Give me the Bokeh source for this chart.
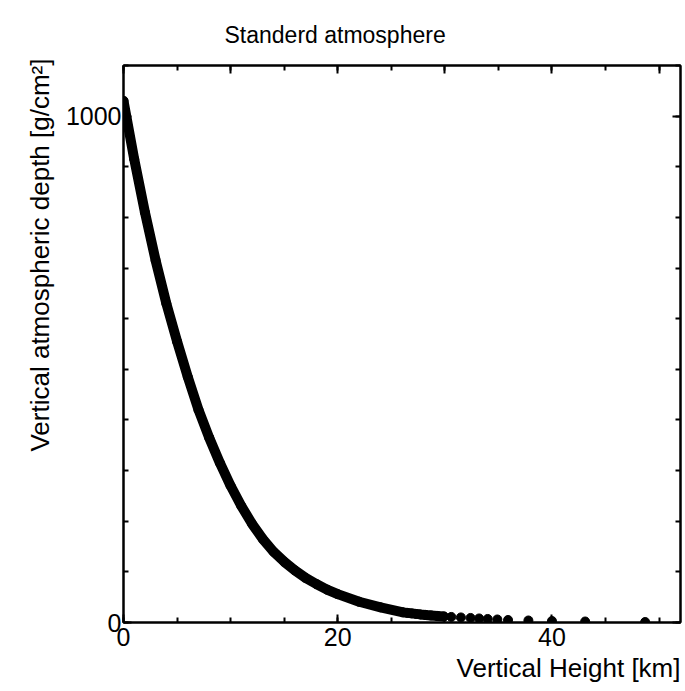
from bokeh.plotting import figure
from bokeh.models import FixedTicker, LinearAxis, Range1d, CustomJSTickFormatter, Title
from bokeh.embed import file_html
from bokeh.resources import INLINE

# ---- data ----
# dense part of the curve (height km, depth g/cm^2)
curve_height = [0, 1, 2, 3, 4, 5, 6, 7, 8, 9, 10, 11, 12, 13, 14, 15, 16, 17, 18,
                19, 20, 22, 24, 26.1, 26.5, 26.9, 27.3, 27.7, 28.2, 28.7, 29.3, 29.9]
curve_depth = [1030, 915, 810, 715, 630, 555, 485, 420, 365, 315, 270, 230, 195,
               165, 140, 120, 103, 88, 76, 65, 56, 41, 30, 20, 19, 18, 17, 16, 15,
               14, 13, 12]
# sparse tail points
tail_height = [30.6, 31.5, 32.4, 33.2, 34.0, 34.9, 35.9, 37.8, 40.0, 43.1, 48.7]
tail_depth = [11, 10, 9, 8, 7, 6, 5, 4, 3, 2, 1]

x_labeled = [0, 20, 40]
x_all = [0, 10, 20, 30, 40, 50]
x_minor = [0, 5, 10, 15, 20, 25, 30, 35, 40, 45, 50]
y_labeled = [0, 1000]
y_minor = [0, 100, 200, 300, 400, 500, 600, 700, 800, 900, 1000, 1100]

title_text = "Standerd atmosphere"
xlabel_text = "Vertical Height [km]"
ylabel_text = "Vertical atmospheric depth [g/cm\u00b2]"

# ---- layout ----
W, H = 685, 691
L, R, T, B = 123, 680, 65, 622
FONT = "Liberation Sans"

p = figure(width=W, height=H, output_backend="svg", toolbar_location=None,
           x_range=Range1d(0, 52), y_range=Range1d(0, 1100),
           min_border_left=L, min_border_right=W - R, min_border_top=T,
           min_border_bottom=H - B)
p.background_fill_color = "white"
p.border_fill_color = "white"
p.outline_line_color = "black"
p.outline_line_width = 2
p.xgrid.visible = False
p.ygrid.visible = False

p.title.text = title_text
p.title.text_font = FONT
p.title.text_font_size = "23px"
p.title.text_font_style = "normal"
p.title.text_color = "black"
p.title.align = "left"
p.title.offset = 101
p.title.standoff = 36


def style_axis(ax, ticks, minor, show_labels):
    ax.ticker = FixedTicker(ticks=ticks, minor_ticks=minor)
    ax.axis_line_color = "black"
    ax.axis_line_width = 2
    ax.major_tick_line_color = "black"
    ax.major_tick_line_width = 2
    ax.minor_tick_line_color = "black"
    ax.minor_tick_line_width = 2
    ax.major_tick_in = 8
    ax.major_tick_out = 0
    ax.minor_tick_in = 5
    ax.minor_tick_out = 0
    if show_labels:
        ax.major_label_text_font = FONT
        ax.major_label_text_font_size = "25px"
        ax.major_label_text_color = "black"
    else:
        ax.formatter = CustomJSTickFormatter(code="return ''")
        ax.major_label_text_color = None
        ax.major_label_standoff = 0


xa = p.xaxis[0]
style_axis(xa, x_labeled, x_minor, True)
xa.major_label_standoff = 5

ya = p.yaxis[0]
style_axis(ya, y_labeled, y_minor, True)
ya.major_label_standoff = 2

top_ax = LinearAxis()
style_axis(top_ax, x_all, x_minor, False)
p.add_layout(top_ax, "above")
right_ax = LinearAxis()
style_axis(right_ax, y_labeled, y_minor, False)
p.add_layout(right_ax, "right")

# axis titles as side titles (right / top aligned like the reference)
xt = Title(text=xlabel_text, align="right", offset=0, standoff=5,
           text_font=FONT, text_font_size="26px", text_font_style="normal",
           text_color="black")
p.add_layout(xt, "below")
yt = Title(text=ylabel_text, align="right", offset=-7, standoff=16,
           text_font=FONT, text_font_size="26px", text_font_style="normal",
           text_color="black")
p.add_layout(yt, "left")

# ---- data marks ----
p.line(curve_height, curve_depth, line_width=10, line_color="black",
       line_cap="round", line_join="round")
p.scatter(curve_height, curve_depth, size=9, color="black")
p.scatter(tail_height, tail_depth, size=9, color="black")

open("out.html", "w").write(file_html(p, INLINE))
